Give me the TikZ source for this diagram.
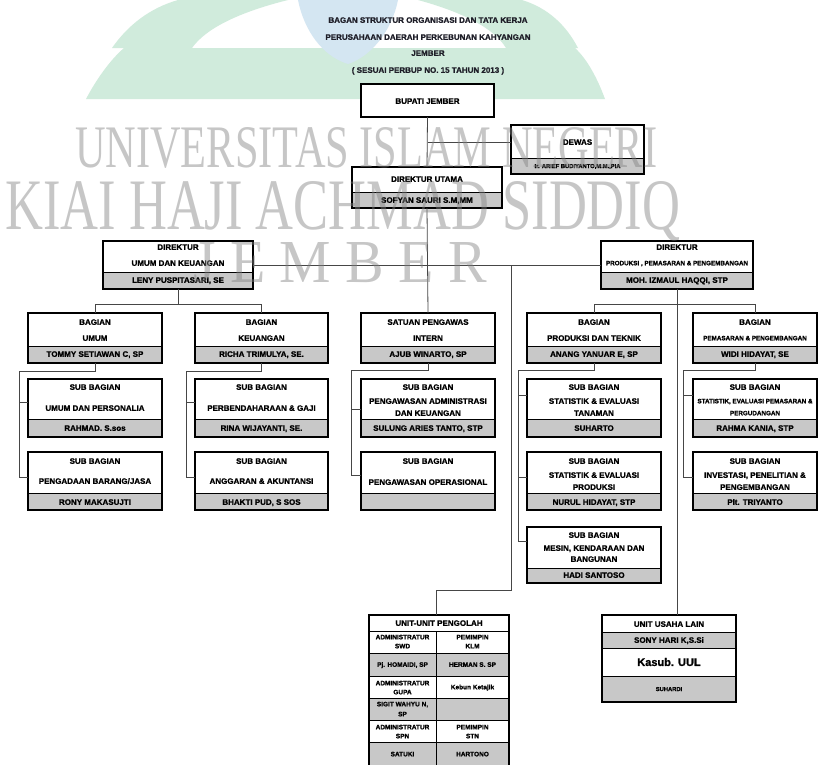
\documentclass[tikz,border=0pt]{standalone}
\usepackage{fontspec}
\setmainfont{Liberation Sans}[BoldFont={Liberation Sans Bold}]
\newfontfamily\bxfont{Liberation Sans Bold}[FakeBold=1.2]
\newfontfamily\wmfont{Liberation Serif}
\usetikzlibrary{fit,calc}
\definecolor{bandgray}{RGB}{200,200,200}
\definecolor{conngray}{RGB}{70,70,70}
\definecolor{logogreen}{RGB}{208,235,220}
\definecolor{logoblue}{RGB}{212,230,242}
\definecolor{wmgray}{RGB}{130,130,130}
\definecolor{titlecol}{RGB}{30,30,40}
\tikzset{
  framed/.style={draw=black, line width=1.6pt},
  band/.style={draw=black, line width=0.7pt, fill=bandgray, inner sep=0pt},
  blank/.style={fill=white, inner sep=0pt},
  conn/.style={draw=conngray, line width=0.8pt},
  tx/.style={inner sep=0pt, font=\bxfont\fontsize{8}{9}\selectfont, text height=5.7pt, text depth=0pt},
  txs/.style={tx, font=\bxfont\fontsize{6.3}{7}\selectfont, text height=4.5pt},
  txc/.style={tx, font=\bxfont\fontsize{6.5}{7}\selectfont, text height=4.6pt},
  txt/.style={tx, font=\bxfont\fontsize{5.8}{6}\selectfont, text height=4.1pt},
  txb/.style={tx, font=\bxfont\fontsize{11}{12}\selectfont, text height=7.9pt},
  wm/.style={inner sep=0pt, anchor=base west, text=wmgray, opacity=0.45},
}
% name, x1, y1, x2, y2, y of band top
\newcommand\obox[6]{%
  \node[blank, fit={(#2,#3) (#4,#5)}] (#1) {};
  \node[band, fit={(#2,#6) (#4,#5)}] (#1-b) {};
  \draw[framed] (#1.north west) rectangle (#1.south east);
}
\newcommand\pbox[5]{%
  \node[blank, fit={(#2,#3) (#4,#5)}] (#1) {};
  \draw[framed] (#1.north west) rectangle (#1.south east);
}
\newcommand\lb[5][tx]{\node[#1] (#2) at (#3,#4) {#5};}
\newcommand\inpt[3]{\coordinate (#1) at ($(#2.north west)!#3!(#2.south west)$);}

\begin{document}
\begin{tikzpicture}[x=1pt,y=-1pt]
\useasboundingbox (0,0) rectangle (820,764);
\fill[white] (0,0) rectangle (820,764);

% ---- faded logo watermark ----
\fill[logogreen] (86,99) .. controls (96,80) and (110,60) .. (124,48) -- (575,48) .. controls (588,60) and (598,80) .. (605,99) -- cycle;
\fill[logogreen] (112,48) .. controls (128,25) and (150,8) .. (178,0) -- (288,0) .. controls (240,12) and (206,28) .. (192,48) -- cycle;
\fill[logogreen] (578,48) .. controls (566,25) and (548,8) .. (522,0) -- (418,0) .. controls (462,12) and (494,28) .. (506,48) -- cycle;
\fill[logoblue] (298,0) -- (398,0) .. controls (392,30) and (372,56) .. (348,64) .. controls (322,56) and (304,30) .. (298,0) -- cycle;

% ---- title ----
\lb[tx,text=titlecol]{ti1}{428}{20}{BAGAN STRUKTUR ORGANISASI DAN TATA KERJA}
\lb[tx,text=titlecol]{ti2}{428}{37}{PERUSAHAAN DAERAH PERKEBUNAN KAHYANGAN}
\lb[tx,text=titlecol]{ti3}{428}{53}{JEMBER}
\lb[tx,text=titlecol]{ti4}{428}{70}{( SESUAI PERBUP NO. 15 TAHUN 2013 )}

% ---- top ----
\pbox{bupati}{361}{84}{494}{117}
\lb{t-bup}{427.5}{101}{BUPATI JEMBER}

\obox{dewas}{511}{125}{644}{174}{158}
\lb{t-dew1}{577.5}{142}{DEWAS}
\lb[txt]{t-dew2}{577.5}{166}{Ir. ARIEF BUDIYANTO,M.M.,PIA}

\obox{dirut}{352}{167}{502}{208}{192}
\lb{t-du1}{427}{179}{DIREKTUR UTAMA}
\lb{t-du2}{427}{200}{SOFYAN SAURI S.M,MM}

\obox{dirum}{103}{241}{253}{289}{272}
\lb{t-dum1}{178}{247}{DIREKTUR}
\lb{t-dum2}{178}{263}{UMUM DAN KEUANGAN}
\lb{t-dum3}{178}{280}{LENY PUSPITASARI, SE}

\obox{dirpro}{601}{241}{753}{289}{272}
\lb{t-dp1}{677}{247}{DIREKTUR}
\lb[txs]{t-dp2}{677}{263}{PRODUKSI , PEMASARAN \& PENGEMBANGAN}
\lb{t-dp3}{677}{280}{MOH. IZMAUL HAQQI, STP}

% ---- bagian row ----
\obox{bum}{28}{313}{162}{363}{346}
\lb{t-bu1}{95}{322}{BAGIAN}
\lb{t-bu2}{95}{338}{UMUM}
\lb{t-bu3}{95}{354}{TOMMY SETIAWAN C, SP}

\obox{bkeu}{195}{313}{328}{363}{346}
\lb{t-bk1}{261.5}{322}{BAGIAN}
\lb{t-bk2}{261.5}{338}{KEUANGAN}
\lb{t-bk3}{261.5}{354}{RICHA TRIMULYA, SE.}

\obox{spi}{361}{313}{495}{363}{346}
\lb{t-sp1}{428}{322}{SATUAN PENGAWAS}
\lb{t-sp2}{428}{338}{INTERN}
\lb{t-sp3}{428}{354}{AJUB WINARTO, SP}

\obox{bpro}{527}{313}{661}{363}{346}
\lb{t-bp1}{594}{322}{BAGIAN}
\lb{t-bp2}{594}{338}{PRODUKSI DAN TEKNIK}
\lb{t-bp3}{594}{354}{ANANG YANUAR E, SP}

\obox{bpem}{693}{313}{817}{363}{346}
\lb{t-bm1}{755}{322}{BAGIAN}
\lb[txs]{t-bm2}{755}{338}{PEMASARAN \& PENGEMBANGAN}
\lb{t-bm3}{755}{354}{WIDI HIDAYAT, SE}

% ---- sub bagian row 1 ----
\obox{sbu1}{28}{379}{162}{437}{419}
\lb{t-su11}{95}{387}{SUB BAGIAN}
\lb{t-su12}{95}{408}{UMUM DAN PERSONALIA}
\lb{t-su13}{95}{428}{RAHMAD. S.sos}

\obox{sbk1}{195}{379}{328}{437}{419}
\lb{t-sk11}{261.5}{387}{SUB BAGIAN}
\lb{t-sk12}{261.5}{408}{PERBENDAHARAAN \& GAJI}
\lb{t-sk13}{261.5}{428}{RINA WIJAYANTI, SE.}

\obox{sps1}{361}{379}{495}{437}{419}
\lb{t-ss11}{428}{387}{SUB BAGIAN}
\lb{t-ss12}{428}{401}{PENGAWASAN ADMINISTRASI}
\lb{t-ss13}{428}{413}{DAN KEUANGAN}
\lb{t-ss14}{428}{428}{SULUNG ARIES TANTO, STP}

\obox{spr1}{527}{379}{661}{437}{419}
\lb{t-sr11}{594}{387}{SUB BAGIAN}
\lb{t-sr12}{594}{401}{STATISTIK \& EVALUASI}
\lb{t-sr13}{594}{413}{TANAMAN}
\lb{t-sr14}{594}{428}{SUHARTO}

\obox{spm1}{693}{379}{817}{437}{419}
\lb{t-sm11}{755}{387}{SUB BAGIAN}
\lb[txs]{t-sm12}{755}{401}{STATISTIK, EVALUASI PEMASARAN \&}
\lb[txs]{t-sm13}{755}{413}{PERGUDANGAN}
\lb{t-sm14}{755}{428}{RAHMA KANIA, STP}

% ---- sub bagian row 2 ----
\obox{sbu2}{28}{452}{162}{510}{493}
\lb{t-su21}{95}{461}{SUB BAGIAN}
\lb{t-su22}{95}{481}{PENGADAAN BARANG/JASA}
\lb{t-su23}{95}{502}{RONY MAKASUJTI}

\obox{sbk2}{195}{452}{328}{510}{493}
\lb{t-sk21}{261.5}{461}{SUB BAGIAN}
\lb{t-sk22}{261.5}{481}{ANGGARAN \& AKUNTANSI}
\lb{t-sk23}{261.5}{502}{BHAKTI PUD, S SOS}

\obox{sps2}{361}{452}{495}{510}{493}
\lb{t-ss21}{428}{461}{SUB BAGIAN}
\lb{t-ss22}{428}{482}{PENGAWASAN OPERASIONAL}

\obox{spr2}{527}{452}{661}{510}{493}
\lb{t-sr21}{594}{461}{SUB BAGIAN}
\lb{t-sr22}{594}{475}{STATISTIK \& EVALUASI}
\lb{t-sr23}{594}{487}{PRODUKSI}
\lb{t-sr24}{594}{502}{NURUL HIDAYAT, STP}

\obox{spm2}{693}{452}{817}{510}{493}
\lb{t-sm21}{755}{461}{SUB BAGIAN}
\lb{t-sm22}{755}{475}{INVESTASI, PENELITIAN \&}
\lb{t-sm23}{755}{487}{PENGEMBANGAN}
\lb{t-sm24}{755}{502}{Plt. TRIYANTO}

% ---- sub bagian row 3 ----
\obox{spr3}{527}{527}{661}{583}{568}
\lb{t-sr31}{594}{535}{SUB BAGIAN}
\lb{t-sr32}{594}{548}{MESIN, KENDARAAN DAN}
\lb{t-sr33}{594}{559}{BANGUNAN}
\lb{t-sr34}{594}{575}{HADI SANTOSO}

% ---- unit-unit pengolah ----
\node[blank, fit={(369,615) (509,767)}] (upg) {};
\node[band, fit={(369,653) (509,676)}] (upg-g1) {};
\node[band, fit={(369,698) (509,720)}] (upg-g2) {};
\node[band, fit={(369,742) (509,767)}] (upg-g3) {};
\draw[draw=black, line width=0.9pt] (369,631) -- (509,631);
\draw[draw=black, line width=0.7pt] (436,631) -- (436,767);
\draw[framed] (upg.north west) rectangle (upg.south east);
\lb{t-u0}{439}{623}{UNIT-UNIT PENGOLAH}
\lb[txc]{t-u1a}{402.5}{637}{ADMINISTRATUR}
\lb[txc]{t-u1b}{402.5}{646}{SWD}
\lb[txc]{t-u1c}{472.5}{637}{PEMIMPIN}
\lb[txc]{t-u1d}{472.5}{646}{KLM}
\lb[txc]{t-u2a}{402.5}{664.5}{Pj. HOMAIDI, SP}
\lb[txc]{t-u2b}{472.5}{664.5}{HERMAN S. SP}
\lb[txc]{t-u3a}{402.5}{683}{ADMINISTRATUR}
\lb[txc]{t-u3b}{402.5}{692}{GUPA}
\lb[txc]{t-u3c}{472.5}{687}{Kebun Ketajik}
\lb[txc]{t-u4a}{402.5}{704}{SIGIT WAHYU N,}
\lb[txc]{t-u4b}{402.5}{714}{SP}
\lb[txc]{t-u5a}{402.5}{727}{ADMINISTRATUR}
\lb[txc]{t-u5b}{402.5}{736}{SPN}
\lb[txc]{t-u5c}{472.5}{727}{PEMIMPIN}
\lb[txc]{t-u5d}{472.5}{736}{STN}
\lb[txc]{t-u6a}{402.5}{754}{SATUKI}
\lb[txc]{t-u6b}{472.5}{754}{HARTONO}

% ---- unit usaha lain ----
\node[blank, fit={(602,615) (736,702)}] (uul) {};
\node[band, fit={(602,632) (736,648)}] (uul-g1) {};
\node[band, fit={(602,676) (736,702)}] (uul-g2) {};
\draw[framed] (uul.north west) rectangle (uul.south east);
\lb{t-ul1}{669}{624}{UNIT USAHA LAIN}
\lb{t-ul2}{669}{640}{SONY HARI K,S.Si}
\lb[txb]{t-ul3}{669}{662}{Kasub. UUL}
\lb[txt]{t-ul4}{669}{689}{SUHARDI}

% ---- connectors ----
\draw[conn] (bupati.south) -- (dirut.north);
\inpt{dewasin}{dewas}{0.35}
\draw[conn] (bupati.south |- dewasin) -- (dewasin);
\draw[conn] (dirut.south) -- (spi.north);
\draw[conn] (dirum.east) -- (dirpro.west);
\coordinate (tapA) at (511,265);
\coordinate (tapB) at (511,590);
\coordinate (upgin) at (436,615);
\draw[conn] (tapA) -- (tapB) -| (upgin);
\draw[conn] (dirpro.south) -- (dirpro.south |- uul.north);
\draw[conn] (dirum.south) -- ++(0,16);
\draw[conn] (bum.north) -- ++(0,-8) -| (bkeu.north);
\draw[conn] (bpro.north) -- ++(0,-8) -| (bpem.north);

\inpt{a1}{sbu1}{0.41}\inpt{a2}{sbu2}{0.43}
\draw[conn] (bum.south) -- ++(0,8) -| ([xshift=-8pt]a2) -- (a2);
\draw[conn] ([xshift=-8pt]a1) -- (a1);

\inpt{b1}{sbk1}{0.41}\inpt{b2}{sbk2}{0.43}
\draw[conn] (bkeu.south) -- ++(0,8) -| ([xshift=-8pt]b2) -- (b2);
\draw[conn] ([xshift=-8pt]b1) -- (b1);

\inpt{c1}{sps1}{0.53}\inpt{c2}{sps2}{0.41}
\draw[conn] (spi.south) -- ++(0,7) -| ([xshift=-9pt]c2) -- (c2);
\draw[conn] ([xshift=-9pt]c1) -- (c1);

\inpt{d1}{spr1}{0.28}\inpt{d2}{spr2}{0.43}\inpt{d3}{spr3}{0.25}
\draw[conn] (bpro.south) -- ++(0,7) -| ([xshift=-8pt]d3) -- (d3);
\draw[conn] ([xshift=-8pt]d1) -- (d1);
\draw[conn] ([xshift=-8pt]d2) -- (d2);

\inpt{e1}{spm1}{0.28}\inpt{e2}{spm2}{0.43}
\draw[conn] (bpem.south) -- ++(0,7) -| ([xshift=-9pt]e2) -- (e2);
\draw[conn] ([xshift=-9pt]e1) -- (e1);

% ---- text watermark ----
\node[wm] (wm1) at (75,167) {\resizebox{582pt}{40pt}{\wmfont UNIVERSITAS ISLAM NEGERI}};
\node[wm] (wm2) at (5,229) {\resizebox{675pt}{48pt}{\wmfont KIAI HAJI ACHMAD SIDDIQ}};
\node[wm] (wm3) at (193,282) {\resizebox{294pt}{40pt}{\wmfont J E M B E R}};
\end{tikzpicture}
\end{document}
